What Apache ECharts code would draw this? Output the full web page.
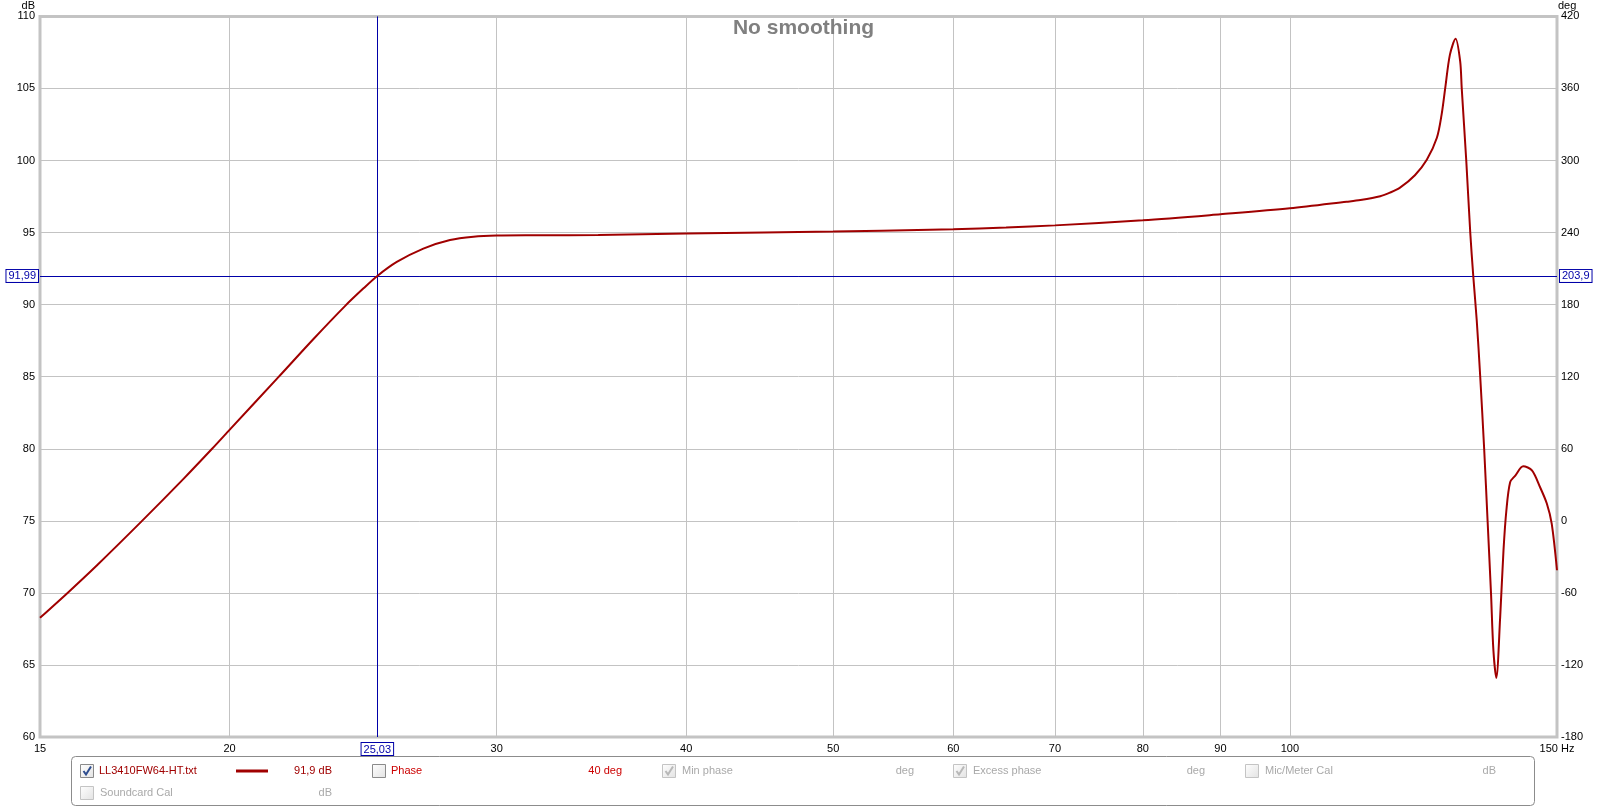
<!DOCTYPE html>
<html>
<head>
<meta charset="utf-8">
<script src="https://cdn.jsdelivr.net/npm/echarts@6/dist/echarts.min.js"></script>
<style>html,body{margin:0;padding:0;background:#fff}#c{width:1607px;height:808px}</style>
</head>
<body>
<div id="c"></div>
<script>
// ---- data ----
const freqHz = [15, 15.66, 16.35, 17.5, 18.65, 19.47, 20, 21.54, 22.71, 23.83,
  24.51, 25.03, 25.78, 26.84, 27.95, 28.96, 30, 32, 35, 40,
  45, 50, 57.9, 60, 65, 70, 80, 90, 100, 109,
  111.3, 114.7, 116.4, 118.2, 120.9, 123.1, 125, 125.9, 126.6, 127.5,
  128.6, 129.5, 129.8, 130.7, 131.5, 132.1, 132.8, 133.5, 134.3, 135,
  135.7, 136.2, 136.8, 137.6, 138.3, 138.9, 139.7, 140.8, 142.5, 144.4,
  146.2, 147.7, 148.8, 150];
const splDb = [68.27, 70.05, 71.90, 74.96, 77.91, 79.98, 81.31, 84.97, 87.60, 89.90,
  91.13, 91.99, 92.96, 93.89, 94.48, 94.71, 94.79, 94.81, 94.84, 94.93,
  95.0, 95.07, 95.20, 95.23, 95.35, 95.50, 95.85, 96.27, 96.68, 97.14,
  97.26, 97.52, 97.77, 98.12, 98.98, 100.05, 101.58, 103.19, 105.04, 107.35,
  108.45, 106.88, 105.04, 100.0, 94.97, 91.97, 88.88, 85.0, 80.0, 75.0,
  70.0, 66.0, 64.1, 68.3, 72.95, 75.7, 77.68, 78.14, 78.79, 78.5,
  77.33, 76.2, 74.8, 71.57];
const xTickValues = [15, 20, 30, 40, 50, 60, 70, 80, 90, 100, 150];
const cursorFreq = 25.03;
const cursorDb = 91.99;
const dbRange = [60, 110];
const degRange = [-180, 420];

const seriesData = freqHz.map((f, i) => [f, splDb[i]]);
const cursorDeg = degRange[0] + (cursorDb - dbRange[0]) / (dbRange[1] - dbRange[0]) * (degRange[1] - degRange[0]);
const comma = (v, d) => v.toFixed(d).replace('.', ',');

const FONT = '"Liberation Sans", Arial, sans-serif';
const RED = '#a00000';
const GREY = '#a9a9a9';
const BLUE = '#0000a8';

// ---- legend panel decoration ----
const g = [];
g.push({type:'rect', shape:{x:71.5, y:756.5, width:1463, height:49, r:4},
  style:{fill:'#fff', stroke:'#8c8c8c', lineWidth:1}, z:10});
function cb(x, y, checked, enabled, checkColor) {
  g.push({type:'rect', shape:{x:x+0.5, y:y+0.5, width:13, height:13},
    style:{fill:new echarts.graphic.LinearGradient(0,0,1,1,[{offset:0,color:'#ffffff'},{offset:1,color:'#e2e2e2'}]),
      stroke: enabled ? '#8a8a8a' : '#c4c4c4', lineWidth:1}, z:11});
  if (checked) {
    g.push({type:'polyline', shape:{points:[[x+3.5,y+7],[x+6,y+10.5],[x+11,y+2.5]]},
      style:{stroke:checkColor, lineWidth:2, fill:null}, z:12});
  }
}
function tx(text, x, y, color, align) {
  g.push({type:'text', x:x, y:y, z:12,
    style:{text:text, fill:color, font:'11px ' + FONT,
      align:align||'left', verticalAlign:'middle', textAlign:align||'left', textVerticalAlign:'middle'}});
}
const r1 = 771, r2 = 793;
cb(80, 764, true, true, '#2e4d8f');
tx('LL3410FW64-HT.txt', 99, r1, RED);
g.push({type:'line', shape:{x1:236, y1:r1, x2:268, y2:r1}, style:{stroke:RED, lineWidth:3}, z:12});
tx('91,9 dB', 332, r1, RED, 'right');
cb(372, 764, false, true);
tx('Phase', 391, r1, '#cc0000');
tx('40 deg', 622, r1, '#cc0000', 'right');
cb(662, 764, true, false, '#b8b8b8');
tx('Min phase', 682, r1, GREY);
tx('deg', 914, r1, GREY, 'right');
cb(953, 764, true, false, '#b8b8b8');
tx('Excess phase', 973, r1, GREY);
tx('deg', 1205, r1, GREY, 'right');
cb(1245, 764, false, false);
tx('Mic/Meter Cal', 1265, r1, GREY);
tx('dB', 1496, r1, GREY, 'right');
cb(80, 786, false, false);
tx('Soundcard Cal', 100, r2, GREY);
tx('dB', 332, r2, GREY, 'right');

const chart = echarts.init(document.getElementById('c'), null, {renderer:'canvas'});
chart.setOption({
  animation: false,
  backgroundColor: '#fff',
  title: {text:'No smoothing', left:'center', top:13,
    textStyle:{color:'#808080', fontSize:21, fontWeight:'bold', fontFamily:FONT}},
  grid: {left:40, right:50, top:15, bottom:71, show:true, borderColor:'#c4c4c4', borderWidth:3, backgroundColor:'#fff'},
  xAxis: {
    type:'log', logBase:10, min:15, max:150,
    axisLine:{show:false},
    axisTick:{show:false, customValues:xTickValues},
    axisLabel:{customValues:xTickValues, color:'#000', fontSize:11, fontFamily:FONT, margin:6,
      formatter: v => (v === 150 ? '150 Hz' : String(v))},
    splitLine:{show:true, lineStyle:{color:'#c3c3c3', width:1}}
  },
  yAxis: [
    {type:'value', min:dbRange[0], max:dbRange[1], interval:5, position:'left',
      name:'dB', nameLocation:'end', nameGap:3,
      nameTextStyle:{color:'#000', fontSize:11, fontFamily:FONT, align:'right', padding:[0,5,0,0]},
      axisLine:{show:false}, axisTick:{show:false},
      axisLabel:{color:'#000', fontSize:11, fontFamily:FONT, margin:5},
      splitLine:{show:true, lineStyle:{color:'#c3c3c3', width:1}}},
    {type:'value', min:degRange[0], max:degRange[1], interval:60, position:'right',
      name:'deg', nameLocation:'end', nameGap:3,
      nameTextStyle:{color:'#000', fontSize:11, fontFamily:FONT, align:'left', padding:[0,0,0,1]},
      axisLine:{show:false}, axisTick:{show:false},
      axisLabel:{color:'#000', fontSize:11, fontFamily:FONT, margin:4},
      splitLine:{show:false}}
  ],
  series: [{
    type:'line', yAxisIndex:0, data:seriesData, showSymbol:false, smooth:0.3,
    lineStyle:{color:RED, width:2}, itemStyle:{color:RED}, z:5,
    markLine:{
      silent:true, symbol:'none', animation:false,
      lineStyle:{color:BLUE, width:1, type:'solid'},
      label:{color:BLUE, fontSize:11, fontFamily:FONT, backgroundColor:'#fff',
        borderColor:BLUE, borderWidth:1, padding:[1,2,0,2]},
      data:[
        {xAxis:cursorFreq, label:{position:'start', distance:6, formatter: () => comma(cursorFreq, 2)}},
        {yAxis:cursorDb, label:{position:'start', distance:2, formatter: () => comma(cursorDb, 2)}},
        {yAxis:cursorDb, label:{position:'end', distance:3, formatter: () => comma(cursorDeg, 1)}}
      ]
    }
  }],
  graphic: {elements: g}
});
</script>
</body>
</html>
